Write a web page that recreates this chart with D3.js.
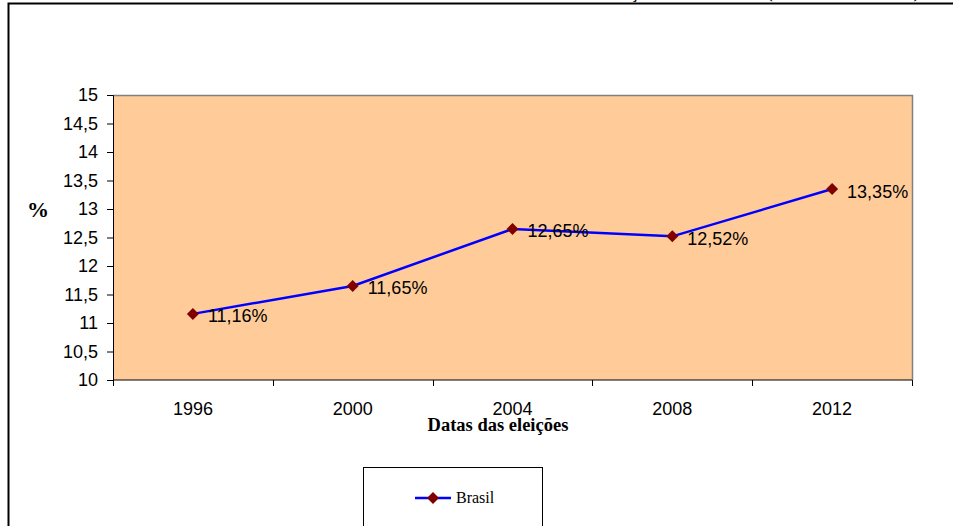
<!DOCTYPE html>
<html>
<head>
<meta charset="utf-8">
<script src="https://cdn.jsdelivr.net/npm/d3@7"></script>
<style>
  html, body { margin: 0; padding: 0; background: #fff; }
  svg { display: block; }
</style>
</head>
<body>
<svg id="chart" width="953" height="526"></svg>
<script>
// Eleições municipais: percentual de vereadoras eleitas no Brasil
const years = ["1996", "2000", "2004", "2008", "2012"];
const brasil = [11.16, 11.65, 12.65, 12.52, 13.35];
const yTicks = [10, 10.5, 11, 11.5, 12, 12.5, 13, 13.5, 14, 14.5, 15];
const seriesName = "Brasil";
const titleText = "Percentual de mulheres eleitas nas eleições de 1996 a 2012 (vereadoras do Brasil)";
const xTitle = "Datas das eleições";
const yTitle = "%";

const svg = d3.select("#chart");
const plot = { left: 113, right: 912, top: 95, bottom: 380 };
const fmt = v => String(v).replace(".", ",");
const sans = "Liberation Sans, Arial, sans-serif";
const serif = "Liberation Serif, Times New Roman, serif";

// outer frame (continues past the page edges)
svg.append("rect")
  .attr("x", 8.5).attr("y", 3.5)
  .attr("width", 1200).attr("height", 800)
  .attr("fill", "none").attr("stroke", "#000").attr("stroke-width", 2);

// title, sitting mostly above the frame
svg.append("text")
  .attr("x", 919).attr("y", -2.5)
  .attr("text-anchor", "end")
  .attr("font-family", serif)
  .attr("font-weight", "bold")
  .attr("font-size", 16)
  .text(titleText);

const x = d3.scaleBand().domain(years).range([plot.left, plot.right]);
const y = d3.scaleLinear().domain([10, 15]).range([plot.bottom, plot.top]);

// plot background
svg.append("rect")
  .attr("x", plot.left).attr("y", plot.top)
  .attr("width", plot.right - plot.left).attr("height", plot.bottom - plot.top)
  .attr("fill", "#FFCC99");
svg.append("path")
  .attr("d", `M${plot.left},${plot.top + 0.5}H${plot.right + 0.5}V${plot.bottom}`)
  .attr("fill", "none").attr("stroke", "#808080").attr("stroke-width", 1.5);

// y axis
const yAxis = svg.append("g")
  .attr("transform", `translate(${plot.left},0)`)
  .call(d3.axisLeft(y).tickValues(yTicks).tickSize(6).tickPadding(9).tickFormat(fmt));
yAxis.selectAll("text")
  .attr("font-family", sans)
  .attr("font-size", 18).attr("fill", "#000");
yAxis.selectAll("line, path").attr("stroke", "#000");

// x axis with ticks on category boundaries
const xAxis = svg.append("g")
  .attr("transform", `translate(0,${plot.bottom})`);
xAxis.append("line")
  .attr("x1", plot.left).attr("x2", plot.right)
  .attr("stroke", "#000");
const bounds = years.map(d => x(d)).concat([x(years[years.length - 1]) + x.bandwidth()]);
xAxis.selectAll("line.tick").data(bounds).join("line")
  .attr("class", "tick")
  .attr("x1", d => Math.round(d) + 0.5).attr("x2", d => Math.round(d) + 0.5)
  .attr("y1", 0).attr("y2", 6)
  .attr("stroke", "#000");
xAxis.selectAll("text").data(years).join("text")
  .attr("x", d => x(d) + x.bandwidth() / 2)
  .attr("y", 35)
  .attr("text-anchor", "middle")
  .attr("font-family", sans)
  .attr("font-size", 18)
  .text(d => d);

// axis titles
svg.append("text")
  .attr("x", 498).attr("y", 431)
  .attr("text-anchor", "middle")
  .attr("font-family", serif)
  .attr("font-weight", "bold").attr("font-size", 18.5)
  .text(xTitle);
svg.append("text")
  .attr("x", 38).attr("y", 217)
  .attr("text-anchor", "middle")
  .attr("font-family", serif)
  .attr("font-weight", "bold").attr("font-size", 22)
  .text(yTitle);

// series
const pts = years.map((d, i) => ({ year: d, value: brasil[i] }));
const cx = d => x(d.year) + x.bandwidth() / 2;
const line = d3.line().x(cx).y(d => y(d.value));
svg.append("path")
  .datum(pts)
  .attr("d", line)
  .attr("fill", "none").attr("stroke", "#0000FF").attr("stroke-width", 2.5);

const diamond = d3.symbol().type(d3.symbolSquare).size(72);
svg.selectAll("path.marker").data(pts).join("path")
  .attr("class", "marker")
  .attr("d", diamond)
  .attr("transform", d => `translate(${cx(d)},${y(d.value)}) rotate(45)`)
  .attr("fill", "#800000");

svg.selectAll("text.label").data(pts).join("text")
  .attr("class", "label")
  .attr("x", d => cx(d) + 15)
  .attr("y", d => y(d.value) + 8.5)
  .attr("font-family", sans)
  .attr("font-size", 18)
  .text(d => fmt(d.value) + "%");

// legend
const lg = svg.append("g");
lg.append("rect")
  .attr("x", 363.5).attr("y", 467.5)
  .attr("width", 179).attr("height", 120)
  .attr("fill", "#fff").attr("stroke", "#000");
lg.append("line")
  .attr("x1", 415).attr("x2", 451).attr("y1", 498).attr("y2", 498)
  .attr("stroke", "#0000FF").attr("stroke-width", 2.5);
lg.append("path")
  .attr("d", diamond)
  .attr("transform", "translate(433,498) rotate(45)")
  .attr("fill", "#800000");
lg.append("text")
  .attr("x", 456).attr("y", 503)
  .attr("font-family", serif)
  .attr("font-size", 16)
  .text(seriesName);
</script>
</body>
</html>
